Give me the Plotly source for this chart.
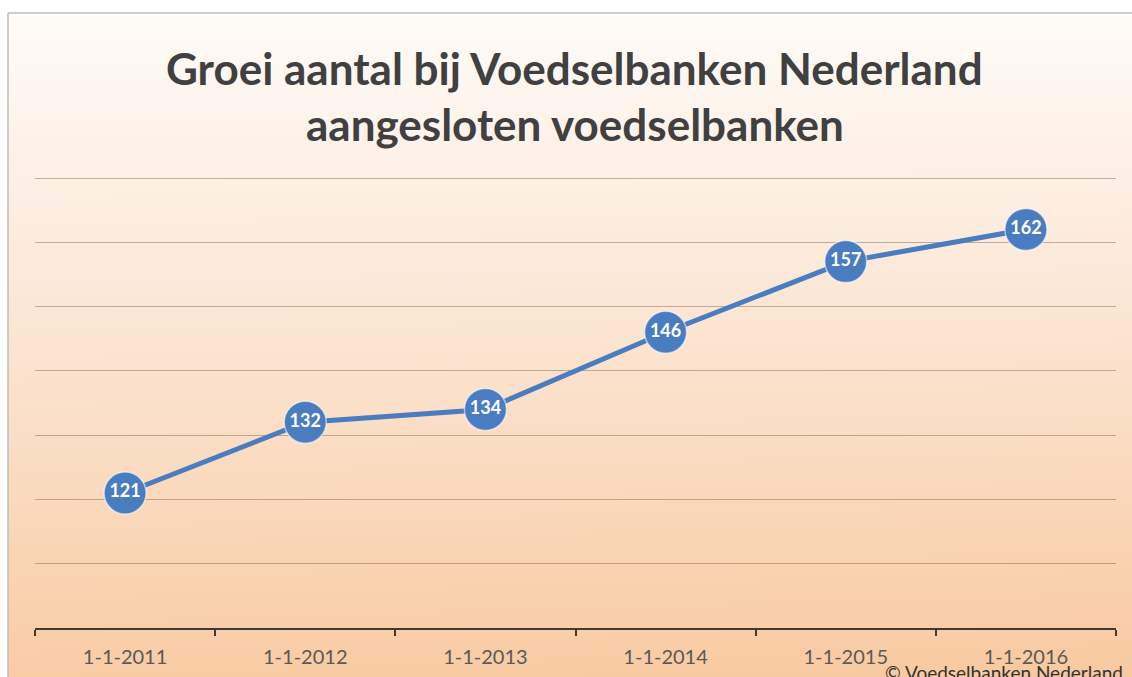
import numpy as np
import plotly.graph_objects as go

categories = ["1-1-2011", "1-1-2012", "1-1-2013", "1-1-2014", "1-1-2015", "1-1-2016"]
values = [121, 132, 134, 146, 157, 162]
title_lines = ["Groei aantal bij Voedselbanken Nederland", "aangesloten voedselbanken"]
credit = "© Voedselbanken Nederland"

W, H = 1132, 677
FONT = "Lato"

# background gradient (purely decorative)
ny, nx = 60, 20
gy = np.linspace(0, 1, ny)[:, None]
gx = np.linspace(0, 1, nx)[None, :]
zbg = gy * np.ones_like(gx) * 0.95 + 0.05 * gx * gy
bg = go.Heatmap(z=zbg, x=np.linspace(0, 1, nx), y=np.linspace(1, 0, ny),
                colorscale=[[0, "#fefbf8"], [0.5, "#fbe3cf"], [1, "#f8c9a0"]],
                showscale=False, hoverinfo="skip", zsmooth="best",
                xaxis="x", yaxis="y")

line = go.Scatter(x=categories, y=values, mode="lines+markers+text",
                  text=[str(v) for v in values], textposition="middle center",
                  textfont=dict(family=FONT, size=18, color="white", weight="bold"),
                  line=dict(color="#4a7dbf", width=5),
                  marker=dict(size=42, color="#4a7dbf",
                              line=dict(color="rgba(255,255,255,0.55)", width=1.5)),
                  cliponaxis=False, hoverinfo="skip",
                  xaxis="x2", yaxis="y2")

fig = go.Figure([bg, line])

px_per_unit = (628 - 178) / 70
left, right = 35 / W, 1116 / W
bottom, top = (H - 628) / H, (H - (178 - px_per_unit)) / H

fig.update_layout(
    width=W, height=H,
    margin=dict(l=0, r=0, t=0, b=0),
    paper_bgcolor="white", plot_bgcolor="rgba(0,0,0,0)",
    showlegend=False,
    xaxis=dict(domain=[8 / W, 1], range=[0, 1], visible=False, fixedrange=True),
    yaxis=dict(domain=[0, 1 - 13 / H], range=[0, 1], visible=False, fixedrange=True),
    xaxis2=dict(domain=[left, right], anchor="y2", type="category",
                range=[-0.5, 5.5], tickson="boundaries", ticks="outside",
                ticklen=6, tickwidth=2, tickcolor="#3f3a36",
                showline=True, linecolor="#3f3a36", linewidth=2,
                showgrid=False, zeroline=False, ticklabelstandoff=10,
                tickfont=dict(family=FONT, size=20, color="#595959")),
    yaxis2=dict(domain=[bottom, top], anchor="x2", range=[100, 171],
                tick0=100, dtick=10, showticklabels=False, ticks="",
                showgrid=True, gridcolor="rgba(115,85,55,0.42)", gridwidth=1,
                zeroline=False, showline=False),
    annotations=[
        dict(text=title_lines[0], x=575 / W, y=1 - 68 / H, xref="paper", yref="paper",
             showarrow=False, xanchor="center", yanchor="middle",
             font=dict(family=FONT, size=44, color="#404040", weight="bold")),
        dict(text=title_lines[1], x=575 / W, y=1 - 124 / H, xref="paper", yref="paper",
             showarrow=False, xanchor="center", yanchor="middle",
             font=dict(family=FONT, size=44, color="#404040", weight="bold")),
        dict(text=credit, x=1125 / W, y=1 - 672 / H, xref="paper", yref="paper",
             showarrow=False, xanchor="right", yanchor="middle",
             font=dict(family=FONT, size=19, color="#333333")),
    ],
    shapes=[
        dict(type="line", xref="paper", yref="paper", x0=8 / W, x1=8 / W, y0=0, y1=1 - 13 / H,
             line=dict(color="#bdbdbd", width=1.5)),
        dict(type="line", xref="paper", yref="paper", x0=8 / W, x1=1, y0=1 - 13 / H, y1=1 - 13 / H,
             line=dict(color="#bdbdbd", width=1.5)),
    ],
)

fig.write_html("out.html", config={"displayModeBar": False},
               post_script="document.body.style.margin='0';document.body.style.overflow='hidden';")
